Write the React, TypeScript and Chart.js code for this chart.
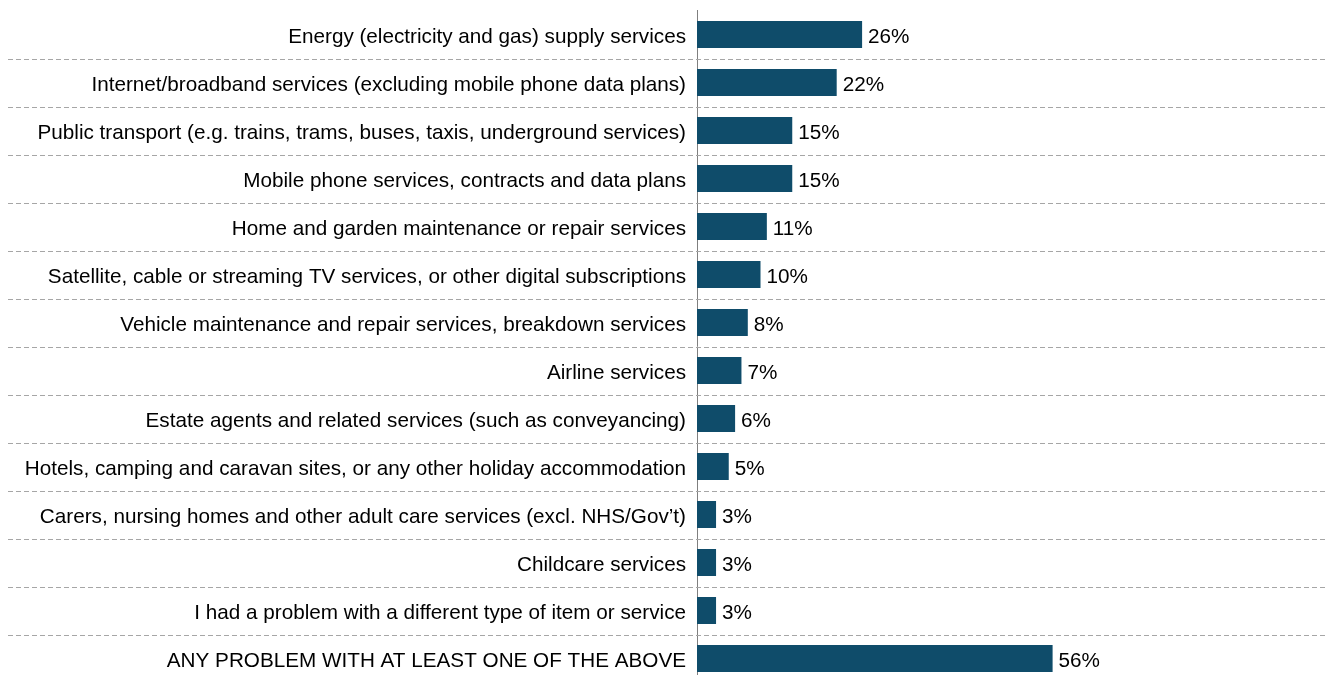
import React, { useEffect, useRef } from "react";
import { Chart, registerables } from "chart.js";

Chart.register(...registerables);

const categories: string[] = [
  "Energy (electricity and gas) supply services",
  "Internet/broadband services (excluding mobile phone data plans)",
  "Public transport (e.g. trains, trams, buses, taxis, underground services)",
  "Mobile phone services, contracts and data plans",
  "Home and garden maintenance or repair services",
  "Satellite, cable or streaming TV services, or other digital subscriptions",
  "Vehicle maintenance and repair services, breakdown services",
  "Airline services",
  "Estate agents and related services (such as conveyancing)",
  "Hotels, camping and caravan sites, or any other holiday accommodation",
  "Carers, nursing homes and other adult care services (excl. NHS/Gov\u2019t)",
  "Childcare services",
  "I had a problem with a different type of item or service",
  "ANY PROBLEM WITH AT LEAST ONE OF THE ABOVE",
];

const values: number[] = [26, 22, 15, 15, 11, 10, 8, 7, 6, 5, 3, 3, 3, 56];

const BAR_COLOR = "#0f4c6a";
const FONT = "'Liberation Sans', Arial, sans-serif";
const FONT_SIZE = 20.7;

const separatorPlugin = {
  id: "separators",
  beforeDatasetsDraw(chart: any) {
    const { ctx } = chart;
    const y = chart.scales.y;
    ctx.save();
    ctx.strokeStyle = "#a6a6a6";
    ctx.lineWidth = 1;
    ctx.setLineDash([5, 3]);
    for (let i = 0; i < categories.length - 1; i++) {
      const py = Math.round(y.getPixelForValue(i + 0.5)) + 0.5;
      ctx.beginPath();
      ctx.moveTo(0, py);
      ctx.lineTo(chart.width, py);
      ctx.stroke();
    }
    ctx.restore();
  },
};

const dataLabelPlugin = {
  id: "dataLabels",
  afterDatasetsDraw(chart: any) {
    const { ctx } = chart;
    const meta = chart.getDatasetMeta(0);
    ctx.save();
    ctx.font = `${FONT_SIZE}px ${FONT}`;
    ctx.fillStyle = "#000000";
    ctx.textAlign = "left";
    ctx.textBaseline = "middle";
    meta.data.forEach((bar: any, i: number) => {
      ctx.fillText(`${values[i]}%`, bar.x + 6, bar.y + 3);
    });
    ctx.restore();
  },
};

export default function App() {
  const canvasRef = useRef<HTMLCanvasElement | null>(null);

  useEffect(() => {
    if (!canvasRef.current) return;
    const chart = new Chart(canvasRef.current, {
      type: "bar",
      data: {
        labels: categories,
        datasets: [
          {
            data: values,
            backgroundColor: BAR_COLOR,
            borderWidth: 0,
            barPercentage: 0.75,
            categoryPercentage: 0.75,
          },
        ],
      },
      options: {
        indexAxis: "y",
        responsive: false,
        animation: false,
        devicePixelRatio: 1,
        layout: { padding: { top: 2.5, bottom: 1.5, right: 4, left: 0 } },
        plugins: {
          legend: { display: false },
          tooltip: { enabled: false },
        },
        scales: {
          x: {
            display: false,
            min: 0,
            max: 100,
          },
          y: {
            afterFit: (scale: any) => {
              scale.width = 689;
              scale.paddingTop = 0;
              scale.paddingBottom = 0;
            },
            grid: { display: false, drawTicks: false },
            border: { display: true, color: "#7f7f7f", width: 1 },
            ticks: {
              padding: 11,
              labelOffset: 3,
              color: "#000000",
              font: { family: FONT, size: FONT_SIZE },
            },
          },
        },
      },
      plugins: [separatorPlugin, dataLabelPlugin],
    });
    return () => chart.destroy();
  }, []);

  return (
    <div style={{ width: 1328, height: 676 }}>
      <canvas ref={canvasRef} width={1328} height={676} />
    </div>
  );
}
